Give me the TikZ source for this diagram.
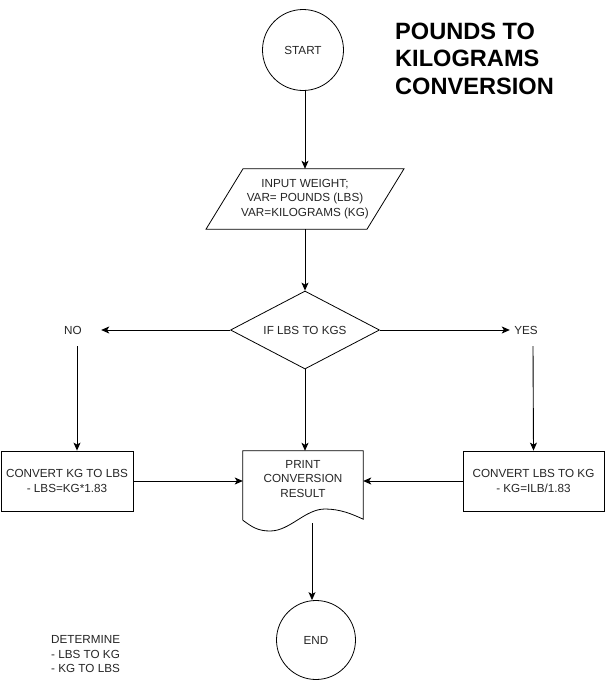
\documentclass[tikz,border=0pt]{standalone}
\usepackage{fontspec}
\setmainfont{Liberation Sans}
\usetikzlibrary{arrows.meta,shapes.geometric}
\begin{document}
\begin{tikzpicture}[x=1pt,y=-1pt,
  every node/.style={font=\fontsize{11.7}{14.5}\selectfont, text=black!85, align=center, inner sep=0pt},
  ln/.style={draw=black, line width=0.9pt},
  arr/.style={ln, -{Stealth[length=8pt,width=7pt,inset=2pt]}},
  circ/.style={circle, draw=black, line width=0.8pt, minimum size=81pt},
  boxn/.style={rectangle, draw=black, line width=0.8pt, minimum width=132pt, minimum height=60pt},
  ghost/.style={rectangle, minimum width=#1},
  lbl/.style={minimum width=32pt, minimum height=32pt}
]
\useasboundingbox (0,0) rectangle (606,681);
\fill[white] (0,0) rectangle (606,681);

% title
\node[font=\fontsize{23.6}{27.5}\selectfont\bfseries, align=left, anchor=north west, text=black] (title) at (395,22.5) {POUNDS TO\\KILOGRAMS\\CONVERSION};

% start
\node[circ] (start) at (303,50) {START};

% input parallelogram
\node[ghost=161pt, minimum height=60pt] (inp) at (305,199) {INPUT WEIGHT;\\VAR= POUNDS (LBS)\\VAR=KILOGRAMS (KG)};
\draw[line width=0.8pt] ([xshift=-62pt]inp.north) -- ([xshift=99pt]inp.north) -- ([xshift=62pt]inp.south) -- ([xshift=-99pt]inp.south) -- cycle;

% decision
\node[diamond, draw=black, line width=0.8pt, minimum width=149pt, minimum height=78pt, aspect=1.9] (dec) at (305,330) {IF LBS TO KGS};

% labels
\node[lbl, minimum width=56pt] (no) at (73,330) {NO};
\node[lbl] (yes) at (526,330) {YES};

% boxes
\node[boxn] (kgl) at (67,481) {CONVERT KG TO LBS\\- LBS=KG*1.83};
\node[boxn, minimum width=141pt] (lkg) at (533.5,481) {CONVERT LBS TO KG\\- KG=ILB/1.83};

% document
\node[ghost=120pt, minimum height=69pt] (doc) at (303,485.5) {};
\node (doctext) at (303,479) {PRINT\\CONVERSION\\RESULT};
\draw[line width=0.8pt] (doc.south west) -- (doc.north west) -- (doc.north east) -- ([yshift=1pt]doc.south east)
  .. controls (352,514) and (340,509) .. (325,509)
  .. controls (305,509) and (290,531) .. (270,531)
  .. controls (258,531) and (252,527) .. (doc.south west);
\coordinate (docout) at (312,523);

% end
\node[circ, minimum size=79pt] (end) at (316,640) {END};

% determine
\node[align=left, anchor=west] (det) at (51,654.5) {DETERMINE\\- LBS TO KG\\- KG TO LBS};

% connectors
\draw[arr] (start.south -| inp.north) -- (inp.north);
\draw[arr] (inp.south) -- (dec.north);
\draw[arr] (dec.west) -- (no.east);
\draw[arr] (dec.east) -- (yes.west);
\draw[arr] ([xshift=4pt]no.south) -- ([xshift=10pt]kgl.north);
\draw[arr] ([xshift=7pt]yes.south) -- (lkg.north);
\draw[arr] (dec.south) -- (dec.south |- doc.north);
\draw[arr] (kgl.east) -- (kgl.east -| doc.west);
\draw[arr] (lkg.west) -- (lkg.west -| doc.east);
\draw[arr] (docout) -- (docout |- end.north);
\end{tikzpicture}
\end{document}
